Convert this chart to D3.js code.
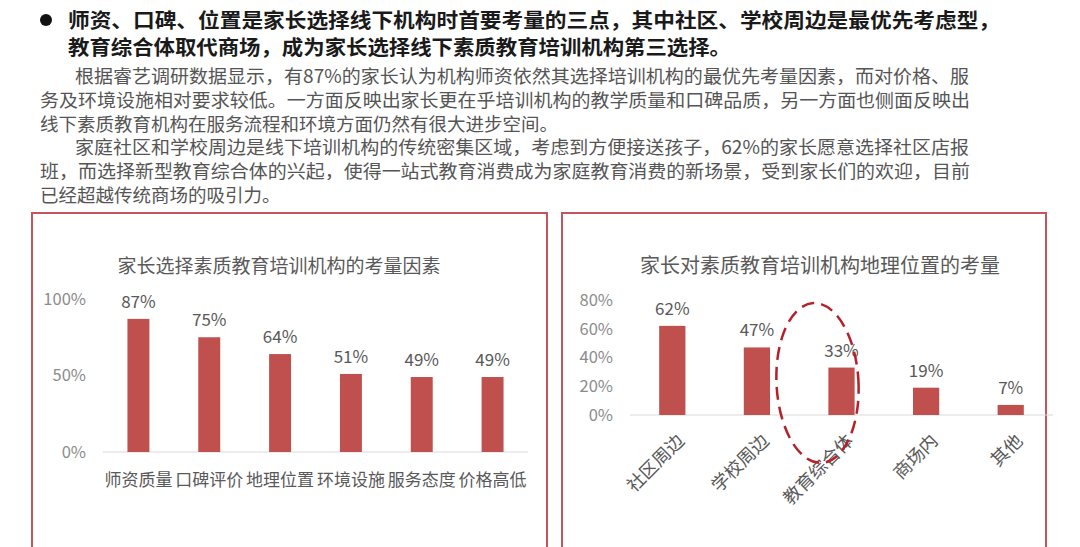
<!DOCTYPE html>
<html>
<head>
<meta charset="utf-8">
<script src="https://cdn.jsdelivr.net/npm/d3@7"></script>
<style>
  body { margin: 0; background: #fff; }
  svg text { font-family: "Noto Sans CJK SC", "Noto Sans", sans-serif; }
</style>
</head>
<body>
<svg id="page" width="1080" height="547"></svg>
<script>
// header text, line by line as laid out in the picture
var headline = [
  "师资、口碑、位置是家长选择线下机构时首要考量的三点，其中社区、学校周边是最优先考虑型，",
  "教育综合体取代商场，成为家长选择线下素质教育培训机构第三选择。"
];
var paragraph = [
  "根据睿艺调研数据显示，有87%的家长认为机构师资依然其选择培训机构的最优先考量因素，而对价格、服",
  "务及环境设施相对要求较低。一方面反映出家长更在乎培训机构的教学质量和口碑品质，另一方面也侧面反映出",
  "线下素质教育机构在服务流程和环境方面仍然有很大进步空间。",
  "家庭社区和学校周边是线下培训机构的传统密集区域，考虑到方便接送孩子，62%的家长愿意选择社区店报",
  "班，而选择新型教育综合体的兴起，使得一站式教育消费成为家庭教育消费的新场景，受到家长们的欢迎，目前",
  "已经超越传统商场的吸引力。"
];

// left chart
var factorTitle = "家长选择素质教育培训机构的考量因素";
var factorCats = ["师资质量", "口碑评价", "地理位置", "环境设施", "服务态度", "价格高低"];
var factorVals = [87, 75, 64, 51, 49, 49];
var factorTicks = [0, 50, 100];

// right chart
var locationTitle = "家长对素质教育培训机构地理位置的考量";
var locationCats = ["社区周边", "学校周边", "教育综合体", "商场内", "其他"];
var locationVals = [62, 47, 33, 19, 7];
var locationTicks = [0, 20, 40, 60, 80];
var highlightCat = "教育综合体";

var barColor = "#c0504d";
var svg = d3.select("#page");

/**
 * header: bullet, bold lines, paragraph
 */
function drawHeader()
{
  svg.append("circle").attr("cx", 46).attr("cy", 20).attr("r", 6).attr("fill", "#111");

  var headWidth = [932, 663];
  svg.selectAll(".head").data(headline).enter()
    .append("text")
    .attr("class", "head")
    .attr("x", 68)
    .attr("y", function(d, i) { return 28 + i * 27; })
    .attr("font-size", 20)
    .attr("font-weight", "bold")
    .attr("fill", "#1a1a1a")
    .attr("textLength", function(d, i) { return headWidth[i]; })
    .attr("lengthAdjust", "spacingAndGlyphs")
    .text(function(d) { return d; });

  // lines 0 and 3 are indented paragraph starts
  var indent = [true, false, false, true, false, false];
  var full = [true, true, false, true, true, false];
  svg.selectAll(".para").data(paragraph).enter()
    .append("text")
    .attr("class", "para")
    .attr("x", function(d, i) { return indent[i] ? 75 : 40; })
    .attr("y", function(d, i) { return 83 + i * 23.8; })
    .attr("font-size", 18.5)
    .attr("fill", "#555")
    .attr("textLength", function(d, i) { return full[i] ? (indent[i] ? 894 : 930) : null; })
    .attr("lengthAdjust", "spacingAndGlyphs")
    .text(function(d) { return d; });
}

/**
 * one bordered bar-chart panel
 */
function drawPanel(opt)
{
  var g = svg.append("g");

  g.append("rect")
    .attr("x", opt.box[0]).attr("y", opt.box[1])
    .attr("width", opt.box[2]).attr("height", opt.box[3])
    .attr("fill", "none").attr("stroke", "#c4555d").attr("stroke-width", 2);

  g.append("text")
    .attr("x", opt.titleX).attr("y", opt.titleY)
    .attr("text-anchor", "middle")
    .attr("font-size", opt.titleSize)
    .attr("fill", "#595959")
    .text(opt.title);

  var x = d3.scaleBand().domain(opt.cats).range(opt.xRange)
    .paddingInner(0.69).paddingOuter(0.345);
  var y = d3.scaleLinear().domain([0, opt.ticks[opt.ticks.length - 1]]).range(opt.yRange);

  // y axis labels only
  var yAxis = g.append("g")
    .attr("transform", "translate(" + opt.yLabelX + ",0)")
    .call(d3.axisLeft(y).tickValues(opt.ticks).tickSize(0).tickPadding(0)
      .tickFormat(function(d) { return d + "%"; }));
  yAxis.select(".domain").remove();
  yAxis.selectAll("text")
    .attr("font-size", 16.5)
    .attr("fill", "#8c8c8c")
    .style("font-family", "'Noto Sans CJK SC', sans-serif");

  // baseline
  g.append("line")
    .attr("x1", opt.xRange[0]).attr("x2", opt.xRange[1])
    .attr("y1", y(0)).attr("y2", y(0))
    .attr("stroke", "#d9d9d9").attr("stroke-width", 1);

  g.selectAll(".bar").data(opt.vals).enter()
    .append("rect")
    .attr("x", function(d, i) { return x(opt.cats[i]); })
    .attr("y", function(d) { return y(d); })
    .attr("width", x.bandwidth())
    .attr("height", function(d) { return y(0) - y(d); })
    .attr("fill", barColor);

  g.selectAll(".val").data(opt.vals).enter()
    .append("text")
    .attr("x", function(d, i) { return x(opt.cats[i]) + x.bandwidth() / 2; })
    .attr("y", function(d) { return y(d) - 11; })
    .attr("text-anchor", "middle")
    .attr("font-size", 17)
    .attr("fill", "#595959")
    .text(function(d) { return d + "%"; });

  var labels = g.selectAll(".cat").data(opt.cats).enter()
    .append("text")
    .attr("fill", "#595959")
    .text(function(d) { return d; });

  if (opt.rotate)
  {
    labels.attr("text-anchor", "end")
      .attr("font-size", 18)
      .attr("transform", function(d) {
        var cx = x(d) + x.bandwidth() / 2 + 13;
        return "translate(" + cx + "," + (y(0) + 27) + ") rotate(-45)";
      });
  }
  else
  {
    labels.attr("text-anchor", "middle")
      .attr("font-size", 17)
      .attr("x", function(d) { return x(d) + x.bandwidth() / 2; })
      .attr("y", y(0) + 34);
  }

  return { x: x, y: y };
}

drawHeader();

drawPanel({
  box: [32, 213, 515, 340],
  title: factorTitle, titleX: 279, titleY: 273, titleSize: 19,
  cats: factorCats, vals: factorVals, ticks: factorTicks,
  xRange: [103, 528], yRange: [452, 299], yLabelX: 86
});

var loc = drawPanel({
  box: [562, 213, 484, 340],
  title: locationTitle, titleX: 820, titleY: 273, titleSize: 20,
  cats: locationCats, vals: locationVals, ticks: locationTicks,
  xRange: [630, 1053], yRange: [415, 300], yLabelX: 613, rotate: true
});

// dashed ellipse round the highlighted category
var ex = loc.x(highlightCat) + loc.x.bandwidth() / 2 - 24;
svg.append("ellipse")
  .attr("cx", ex).attr("cy", 383)
  .attr("rx", 41).attr("ry", 80)
  .attr("transform", "rotate(-3," + ex + ",383)")
  .attr("fill", "none")
  .attr("stroke", "#b5212b")
  .attr("stroke-width", 2.5)
  .attr("stroke-dasharray", "13,7");
</script>
</body>
</html>
